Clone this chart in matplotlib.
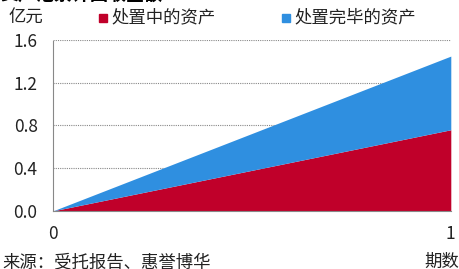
import matplotlib
matplotlib.use("Agg")
from matplotlib import pyplot as plt
from matplotlib.patches import Rectangle

plt.rcParams['font.family'] = ['Noto Sans CJK SC', 'DejaVu Sans']

# data
periods = [0, 1]
disposing = [0.0, 0.76]      # 处置中的资产
disposed = [0.0, 0.69]       # 处置完毕的资产
yticks = [0.0, 0.4, 0.8, 1.2, 1.6]

red = '#c0002a'
blue = '#2f8fe0'

fig = plt.figure(figsize=(4.6, 2.69), dpi=100)
ax = fig.add_axes([0.115, 0.216, 0.865, 0.635])

total = [a + b for a, b in zip(disposing, disposed)]
ax.fill_between(periods, 0, disposing, color=red, linewidth=0)
ax.fill_between(periods, disposing, total, color=blue, linewidth=0)

ax.set_xlim(0, 1)
ax.set_ylim(0, 1.6)
ax.set_yticks(yticks)
ax.set_yticklabels(['%.1f' % v for v in yticks], fontsize=12.5, color='#222222')
ax.set_xticks(periods)
ax.set_xticklabels(['0', '1'], fontsize=12.5, color='#222222')
ax.tick_params(length=0)
ax.tick_params(axis='y', pad=11)
ax.tick_params(axis='x', pad=10)
ax.yaxis.grid(True, linestyle=(0, (1, 1)), color='#888888', linewidth=0.8)
ax.set_axisbelow(True)
for s in ['top', 'right']:
    ax.spines[s].set_visible(False)
ax.spines['left'].set_linestyle((0, (1, 1)))
ax.spines['left'].set_color('#888888')
ax.spines['bottom'].set_linestyle((0, (1, 1)))
ax.spines['bottom'].set_color('#888888')

# title (cut off at top in reference)
fig.text(0.0, 1.018, '资产池累计回收金额', fontsize=13, fontweight='bold', va='center', ha='left')
fig.text(0.018, 0.935, '亿元', fontsize=12.5, va='center', ha='left', color='#222222')

# legend
fig.patches.append(Rectangle((99 / 460, 0.92), 8 / 460, 8 / 269, color=red, transform=fig.transFigure))
fig.text(111 / 460, 0.935, '处置中的资产', fontsize=12.5, va='center', ha='left', color='#222222')
fig.patches.append(Rectangle((282 / 460, 0.92), 8 / 460, 8 / 269, color=blue, transform=fig.transFigure))
fig.text(294 / 460, 0.935, '处置完毕的资产', fontsize=12.5, va='center', ha='left', color='#222222')

fig.text(0.005, 0.025, '来源：受托报告、惠誉博华', fontsize=12.5, va='center', ha='left', color='#222222')
fig.text(0.998, 0.025, '期数', fontsize=12.5, va='center', ha='right', color='#222222')

fig.savefig('out.png', dpi=100)
